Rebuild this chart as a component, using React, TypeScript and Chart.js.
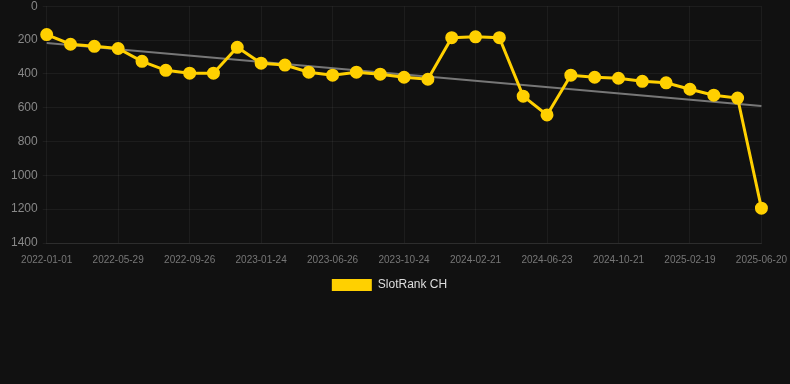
import React, { useEffect, useRef } from "react";
import { Chart, registerables } from "chart.js";

Chart.register(...registerables);

const categories: string[] = [
  "2022-01-01", "2022-02-19", "2022-04-09", "2022-05-29", "2022-07-08", "2022-08-17",
  "2022-09-26", "2022-11-05", "2022-12-15", "2023-01-24", "2023-03-16", "2023-05-06",
  "2023-06-26", "2023-08-05", "2023-09-14", "2023-10-24", "2023-12-03", "2024-01-12",
  "2024-02-21", "2024-04-03", "2024-05-13", "2024-06-23", "2024-08-02", "2024-09-11",
  "2024-10-21", "2024-11-30", "2025-01-09", "2025-02-19", "2025-03-31", "2025-05-10",
  "2025-06-20",
];

const rankValues: number[] = [
  168, 225, 237, 250, 326, 379, 396, 396, 243, 337, 348, 390, 408, 390, 402, 420,
  432, 186, 181, 186, 532, 643, 408, 420, 426, 444, 453, 491, 526, 543, 1194,
];

const trendValues: (number | null)[] = categories.map((_, i) =>
  i === 0 ? 217 : i === categories.length - 1 ? 590 : null
);

const yTicks = { min: 0, max: 1400, step: 200 };

const FONT = "'Liberation Sans', Arial, sans-serif";

const legendShift = {
  id: "legendShift",
  afterLayout(chart: any) {
    const lg = chart.legend;
    if (lg) {
      lg.left -= 9;
      lg.right -= 9;
    }
  },
};

export default function App() {
  const ref = useRef<HTMLCanvasElement | null>(null);

  useEffect(() => {
    document.body.style.margin = "0";
    document.body.style.background = "#111111";
    document.body.style.overflow = "hidden";
    if (!ref.current) return;
    const chart = new Chart(ref.current, {
      type: "line",
      data: {
        labels: categories,
        datasets: [
          {
            label: "SlotRank CH",
            data: rankValues,
            borderColor: "#FFD000",
            backgroundColor: "#FFD000",
            borderWidth: 3,
            pointRadius: 5,
            pointHoverRadius: 5,
            pointBackgroundColor: "#FFD000",
            pointBorderColor: "#FFD000",
            tension: 0,
            order: 1,
          },
          {
            label: "Trend",
            data: trendValues,
            borderColor: "#777777",
            backgroundColor: "#777777",
            borderWidth: 2,
            pointRadius: 0,
            spanGaps: true,
            tension: 0,
            order: 2,
          },
        ],
      },
      plugins: [legendShift],
      options: {
        animation: false,
        responsive: true,
        maintainAspectRatio: false,
        layout: { padding: { top: 0, right: 7, left: 6, bottom: 0 } },
        plugins: {
          legend: {
            position: "bottom",
            labels: {
              color: "#dddddd",
              padding: 2,
              font: { family: FONT, size: 12 },
              boxWidth: 40,
              boxHeight: 12,
              filter: (item) => item.text === "SlotRank CH",
              generateLabels: (c) =>
                Chart.defaults.plugins.legend.labels
                  .generateLabels(c)
                  .map((it) => ({ ...it, lineWidth: 0 })),
            },
          },
          tooltip: { enabled: false },
        },
        scales: {
          x: {
            grid: { color: "rgba(255,255,255,0.05)", drawTicks: false },
            border: { color: "rgba(255,255,255,0.08)" },
            ticks: {
              color: "#777777",
              autoSkip: false,
              maxRotation: 0,
              padding: 11,
              font: { family: FONT, size: 10 },
              callback: (_v, i) => (i % 3 === 0 ? categories[i] : null),
            },
          },
          y: {
            reverse: true,
            min: yTicks.min,
            max: yTicks.max,
            grid: { color: "rgba(255,255,255,0.05)", tickLength: 4 },
            border: { display: false },
            ticks: {
              color: "#888888",
              stepSize: yTicks.step,
              padding: 5,
              font: { family: FONT, size: 12 },
              callback: (v) => String(v),
            },
          },
        },
      },
    });
    return () => chart.destroy();
  }, []);

  return (
    <div style={{ width: 798, height: 307, marginTop: -6, position: "relative", background: "#111111" }}>
      <canvas ref={ref} />
    </div>
  );
}
